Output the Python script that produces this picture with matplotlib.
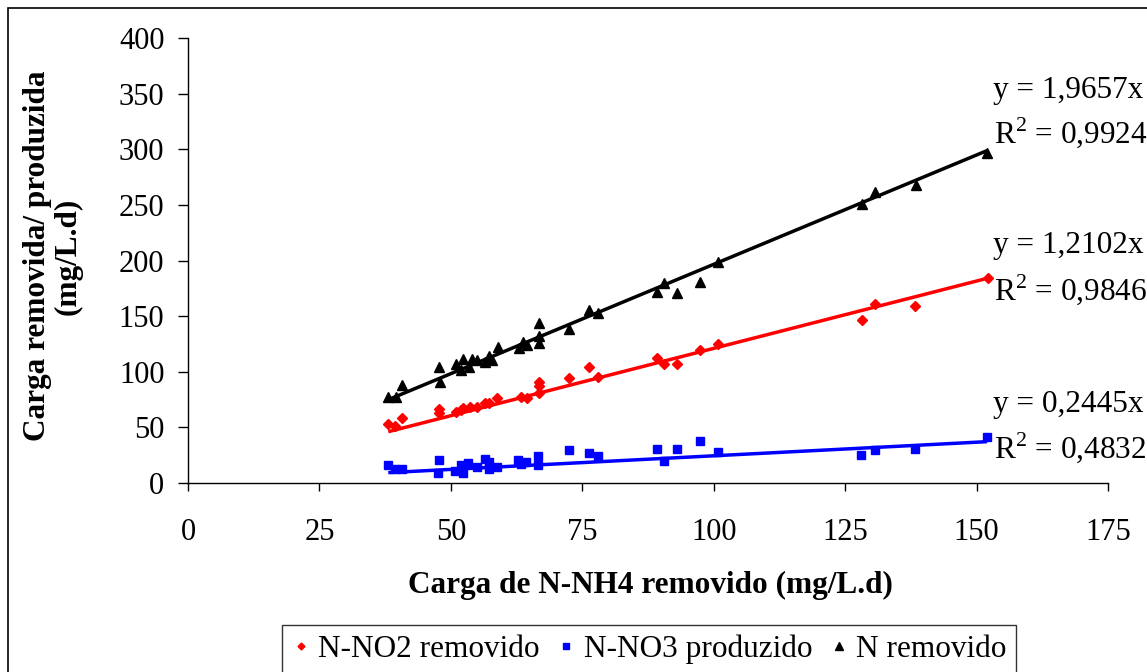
import matplotlib
matplotlib.use("Agg")
import matplotlib.pyplot as plt
from matplotlib.patches import Rectangle

plt.rcParams["font.family"] = ["Liberation Serif", "DejaVu Serif"]
plt.rcParams["mathtext.fontset"] = "custom"
plt.rcParams["mathtext.rm"] = "Liberation Serif"

# N-NO2 removido
no2_x = [38.1, 39.4, 40.8, 47.7, 47.7, 51.0, 52.0, 52.4, 53.6, 54.9, 56.5, 57.3,
         58.7, 63.4, 64.4, 66.8, 66.8, 66.8, 72.5, 76.3, 78.0, 89.2, 90.6, 93.1,
         97.3, 100.9, 128.3, 130.6, 138.3, 152.1]
no2_y = [53, 51.5, 58.7, 66.5, 63, 64, 65.5, 67, 68.6, 68.6, 71.6, 72,
         76, 77.6, 76.7, 91, 87, 80.6, 94.7, 104, 95.6, 112, 107, 107,
         120, 125, 146.5, 160.6, 159.4, 184]

# N-NO3 produzido
no3_x = [38.1, 39.4, 40.8, 47.8, 47.6, 50.8, 52.0, 52.3, 53.3, 54.9, 56.5, 57.3,
         57.3, 58.7, 62.8, 63.4, 64.2, 66.6, 66.6, 72.5, 76.3, 78.0, 89.2, 90.6,
         93.1, 97.3, 100.9, 128.1, 130.6, 138.2, 152.0]
no3_y = [16, 13, 12.6, 20.7, 9.3, 10.8, 16, 9.3, 18.3, 14, 22, 19,
         13, 14, 20.7, 17, 19, 24, 16, 30, 26.6, 24, 31, 19.8,
         31, 38, 27.6, 25, 29.7, 31, 41]

# N removido
n_x = [38.1, 39.6, 40.8, 47.7, 47.9, 51.0, 52.0, 52.4, 53.5, 54.0, 55.0, 56.5,
       57.3, 57.8, 59.0, 63.0, 63.8, 64.4, 66.8, 66.8, 66.8, 72.5, 76.3, 78.0,
       89.2, 90.6, 93.1, 97.3, 100.9, 128.3, 130.7, 138.4, 152.0]
n_y = [77, 77.6, 88, 104.5, 90.5, 106.6, 102, 111.5, 104.5, 111.5, 110.5, 109,
       114, 110.5, 122, 121, 127, 124, 143.5, 132, 125.5, 138.4, 155.5, 152.5,
       172, 179.5, 171, 181, 199, 250.5, 262, 268, 296.6]

slopes = {"no2": 1.2102, "no3": 0.2445, "n": 1.9657}
r2_text = {"no2": "0,9846", "no3": "0,4832", "n": "0,9924"}
slope_text = {"no2": "1,2102", "no3": "0,2445", "n": "1,9657"}

W, H = 1147, 672
fig = plt.figure(figsize=(W / 100, H / 100), dpi=100)
ax = fig.add_axes([188 / W, 1 - 483 / H, (1108 - 188) / W, (483 - 38) / H])

series = [
    ("no2", no2_x, no2_y, "#FF0000", "D", 5.0, "N-NO2 removido"),
    ("no3", no3_x, no3_y, "#0000FF", "s", 6.4, "N-NO3 produzido"),
    ("n", n_x, n_y, "black", "^", 7.4, "N removido"),
]

handles = []
for key, xs, ys, col, mk, ms, lab in series:
    h, = ax.plot(xs, ys, ls="none", marker=mk, ms=ms, color=col, mec=col,
                 label=lab, zorder=2, clip_on=False)
    handles.append(h)
    x0, x1 = min(xs), max(xs)
    ax.plot([x0, x1], [slopes[key] * x0, slopes[key] * x1], color=col,
            lw=2.5, zorder=3, solid_capstyle="butt")

ax.set_xlim(0, 175)
ax.set_ylim(0, 400)
ax.set_xticks(range(0, 176, 25))
ax.set_yticks(range(0, 401, 50))
for s in ["top", "right"]:
    ax.spines[s].set_visible(False)
for s in ["left", "bottom"]:
    ax.spines[s].set_linewidth(1.0)
ax.tick_params(axis="y", direction="out", length=7, width=1, pad=10, labelsize=22)
ax.tick_params(axis="x", direction="out", length=6, width=1, pad=19, labelsize=22)

fig.text(650 / W, 1 - 585 / H, "Carga de N-NH4 removido (mg/L.d)",
         ha="center", va="center", fontsize=22.5, fontweight="bold")
fig.text(53 / W, 1 - 256 / H, "Carga removida/ produzida\n(mg/L.d)",
         ha="center", va="center", rotation=90, fontsize=22.5,
         fontweight="bold", linespacing=1.05)

# trendline equations
eq_pos = {"n": (98, 143), "no2": (253, 300), "no3": (412, 458)}
for key, (yb1, yb2) in eq_pos.items():
    fig.text(993 / W, 1 - yb1 / H, "y = %sx" % slope_text[key],
             ha="left", va="baseline", fontsize=22.5)
    fig.text(994 / W, 1 - yb2 / H, r"R$^2$ = %s" % r2_text[key],
             ha="left", va="baseline", fontsize=22.5)

leg = fig.legend(handles=handles, loc="upper center", ncol=3,
                 bbox_to_anchor=(649 / W, 1 - 625 / H), fontsize=22.5,
                 frameon=True, fancybox=False, markerscale=0.7,
                 handlelength=0.6, handletextpad=0.25, columnspacing=0.55,
                 borderpad=0.3, borderaxespad=0)
leg.get_frame().set_edgecolor("black")
leg.get_frame().set_linewidth(1.0)

fig.patches.append(Rectangle((8 / W, -0.05), 1.2, 1 - 8 / H + 0.05,
                             transform=fig.transFigure, fill=False,
                             edgecolor="black", lw=1.2, zorder=0))

fig.savefig("out.png", dpi=100)
